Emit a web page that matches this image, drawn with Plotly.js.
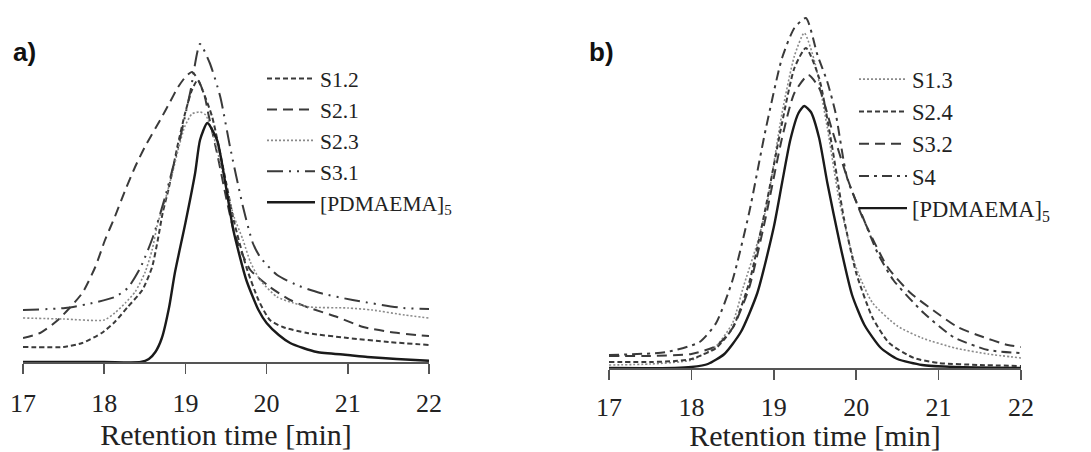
<!DOCTYPE html>
<html>
<head>
<meta charset="utf-8">
<script src="https://cdn.plot.ly/plotly-3.0.1.min.js"></script>
<style>html,body{margin:0;padding:0;background:#fff;}#chart{width:1091px;height:452px;}</style>
</head>
<body>
<div id="chart"></div>
<script>
// ---------- Panel a) ----------
const a_S12_x = [17, 17.5, 17.73, 17.97, 18.13, 18.29, 18.47, 18.59, 18.66, 18.72, 18.79, 18.85, 18.9, 19.0, 19.08, 19.15, 19.22, 19.33, 19.5, 19.6, 19.75, 19.9, 20.04, 20.2, 20.5, 21.0, 21.5, 22];
const a_S12_y = [15, 15, 19, 29, 40, 55, 72, 95, 122, 149, 172, 195, 215, 250, 272, 282, 270, 245, 180, 140, 95, 62, 42, 35, 29, 24, 20, 17];

const a_S21_x = [17, 17.21, 17.43, 17.73, 17.89, 18.01, 18.13, 18.26, 18.38, 18.5, 18.69, 18.81, 18.91, 19.0, 19.08, 19.16, 19.24, 19.28, 19.4, 19.5, 19.6, 19.7, 19.8, 20.04, 20.29, 20.53, 20.87, 21.19, 21.52, 21.85, 22];
const a_S21_y = [24, 29, 42, 69, 95, 122, 145, 172, 195, 215, 242, 260, 275, 285, 290, 282, 265, 249, 205, 165, 130, 108, 92, 75, 62, 54, 45, 35, 30, 27, 26];

const a_S23_x = [17, 17.5, 18.0, 18.13, 18.26, 18.38, 18.5, 18.59, 18.66, 18.75, 18.84, 18.91, 18.99, 19.08, 19.18, 19.25, 19.35, 19.5, 19.6, 19.71, 19.8, 19.92, 20.13, 20.33, 20.53, 21.0, 21.3, 21.7, 22];
const a_S23_y = [44, 43, 42, 49, 59, 70, 89, 112, 139, 162, 189, 212, 235, 248, 250, 247, 225, 175, 145, 122, 100, 82, 65, 59, 55, 54, 52, 47, 44];

const a_S31_x = [17, 17.52, 17.8, 18.13, 18.29, 18.45, 18.6, 18.75, 18.91, 19.06, 19.18, 19.3, 19.43, 19.55, 19.71, 19.83, 19.92, 20.13, 20.4, 20.66, 21.06, 21.68, 22];
const a_S31_y = [52, 54, 58, 65, 74, 95, 125, 165, 215, 270, 318, 299, 265, 215, 155, 119, 105, 87, 76, 69, 62, 54, 53];

const a_P_x = [17, 18.0, 18.45, 18.55, 18.63, 18.71, 18.8, 18.87, 19.0, 19.12, 19.18, 19.27, 19.39, 19.5, 19.59, 19.75, 19.9, 20.0, 20.15, 20.29, 20.45, 20.62, 21.0, 21.24, 21.6, 22];
const a_P_y = [0, 0, 0, 3, 10, 24, 55, 89, 139, 189, 222, 239, 222, 175, 132, 82, 52, 39, 27, 19, 14, 10, 7, 5, 3, 1.3];

// ---------- Panel b) ----------
const b_S13_x = [17, 17.5, 18.0, 18.3, 18.5, 18.63, 18.8, 18.92, 19.1, 19.25, 19.37, 19.5, 19.65, 19.8, 20.0, 20.2, 20.5, 20.8, 21.2, 21.6, 22];
const b_S13_y = [3, 4, 8, 22, 45, 81, 125, 165, 255, 312, 335, 305, 240, 165, 100, 65, 42, 30, 20, 14, 10];

const b_S24_x = [17, 17.5, 17.8, 18.0, 18.3, 18.5, 18.7, 18.9, 19.1, 19.25, 19.39, 19.55, 19.7, 19.85, 20.0, 20.2, 20.4, 20.7, 21.0, 21.5, 22];
const b_S24_y = [6, 6, 7, 9, 20, 40, 85, 160, 245, 300, 320, 290, 225, 150, 95, 50, 25, 10, 5, 3, 2];

const b_S32_x = [17, 17.5, 18.0, 18.3, 18.5, 18.7, 18.9, 19.1, 19.25, 19.42, 19.55, 19.7, 19.9, 20.08, 20.38, 20.66, 20.98, 21.23, 21.47, 21.84, 22];
const b_S32_y = [12, 12, 14, 22, 40, 80, 150, 230, 275, 293, 280, 240, 188, 150, 101, 75, 55, 41, 33, 23, 21];

const b_S4_x = [17, 17.7, 18.1, 18.3, 18.5, 18.7, 18.9, 19.1, 19.25, 19.39, 19.53, 19.65, 19.75, 19.89, 20.08, 20.26, 20.45, 20.82, 21.18, 21.6, 22];
const b_S4_y = [13, 16, 26, 45, 88, 155, 238, 310, 340, 350, 313, 286, 255, 190, 151, 115, 88, 55, 31, 18, 15];

const b_P_x = [17, 17.8, 18.0, 18.2, 18.4, 18.6, 18.8, 19.0, 19.1, 19.2, 19.3, 19.37, 19.45, 19.55, 19.65, 19.8, 19.95, 20.1, 20.3, 20.5, 20.8, 21.2, 22];
const b_P_y = [0, 0, 1, 4, 14, 36, 75, 141, 185, 228, 255, 262, 256, 230, 185, 125, 73, 43, 20, 9, 3, 1, 0];

const tickVals = [17, 18, 19, 20, 21, 22];
const xTitle = 'Retention time [min]';
const pName = '[PDMAEMA]<sub>5</sub>';

const SERIF = '"Liberation Serif", "Times New Roman", serif';
const dark = '#222';

function tr(x, y, name, dash, width, color, xa, ya, leg) {
  return {x: x, y: y, name: name, type: 'scatter', mode: 'lines',
    line: {dash: dash, width: width, color: color, shape: 'spline', smoothing: 0.6},
    xaxis: xa, yaxis: ya, legend: leg, hoverinfo: 'skip'};
}

const data = [
  tr(a_S12_x, a_S12_y, 'S1.2', '5px,3px', 2, '#3a3a3a', 'x', 'y', 'legend'),
  tr(a_S21_x, a_S21_y, 'S2.1', '10px,6px', 2, '#3a3a3a', 'x', 'y', 'legend'),
  tr(a_S23_x, a_S23_y, 'S2.3', '2px,2px', 1.6, '#8a8a8a', 'x', 'y', 'legend'),
  tr(a_S31_x, a_S31_y, 'S3.1', '16px,6px,2px,6px,2px,6px', 2, '#3a3a3a', 'x', 'y', 'legend'),
  tr(a_P_x, a_P_y, pName, 'solid', 2.4, '#1a1a1a', 'x', 'y', 'legend'),
  tr(b_S13_x, b_S13_y, 'S1.3', '2px,2px', 1.6, '#8a8a8a', 'x2', 'y2', 'legend2'),
  tr(b_S24_x, b_S24_y, 'S2.4', '5px,3px', 2, '#3a3a3a', 'x2', 'y2', 'legend2'),
  tr(b_S32_x, b_S32_y, 'S3.2', '10px,6px', 2, '#3a3a3a', 'x2', 'y2', 'legend2'),
  tr(b_S4_x, b_S4_y, 'S4', '10px,5px,3px,5px', 2, '#3a3a3a', 'x2', 'y2', 'legend2'),
  tr(b_P_x, b_P_y, pName, 'solid', 2.4, '#1a1a1a', 'x2', 'y2', 'legend2')
];

function xax(domain, anchor, lblOff, titleOff) {
  return {domain: domain, anchor: anchor, range: [17, 22], tickvals: tickVals,
    showline: true, linecolor: '#555', linewidth: 1.5, ticks: 'outside', ticklen: 10,
    tickwidth: 1.5, tickcolor: '#555', showgrid: false, zeroline: false,
    ticklabelstandoff: lblOff,
    tickfont: {family: SERIF, size: 26, color: dark},
    title: {text: xTitle, font: {family: SERIF, size: 30, color: dark}, standoff: titleOff},
    automargin: false, fixedrange: true};
}
function yax(domain, range, anchor) {
  return {domain: domain, range: range, anchor: anchor, visible: false,
    showgrid: false, zeroline: false, fixedrange: true};
}
function leg(x, y, size) {
  return {x: x, y: y, xanchor: 'left', yanchor: 'top', xref: 'paper', yref: 'paper',
    bgcolor: 'rgba(0,0,0,0)', borderwidth: 0, itemwidth: 48,
    font: {family: SERIF, size: size, color: dark}, tracegroupgap: 0};
}

const layout = {
  width: 1091, height: 452,
  margin: {l: 0, r: 0, t: 0, b: 0},
  paper_bgcolor: '#fff', plot_bgcolor: 'rgba(0,0,0,0)',
  showlegend: true,
  xaxis: xax([23/1091, 429/1091], 'y', 7, 2),
  yaxis: yax([90/452, 422/452], [0, 332], 'x'),
  xaxis2: xax([609/1091, 1021/1091], 'y2', 5, 3),
  yaxis2: yax([84/452, 442/452], [0, 358], 'x2'),
  legend: leg(262/1091, 1 - 58/452, 21.5),
  legend2: leg(854/1091, 1 - 58/452, 22.5),
  annotations: [
    {text: '<b>a)</b>', x: 11/1091, y: 1 - 52/452, xref: 'paper', yref: 'paper', xanchor: 'left', yanchor: 'middle', showarrow: false,
     font: {family: '"Liberation Sans", Arial, sans-serif', size: 26, color: '#111'}},
    {text: '<b>b)</b>', x: 587/1091, y: 1 - 52/452, xref: 'paper', yref: 'paper', xanchor: 'left', yanchor: 'middle', showarrow: false,
     font: {family: '"Liberation Sans", Arial, sans-serif', size: 26, color: '#111'}}
  ]
};

Plotly.newPlot('chart', data, layout, {staticPlot: true, displayModeBar: false});
</script>
</body>
</html>
